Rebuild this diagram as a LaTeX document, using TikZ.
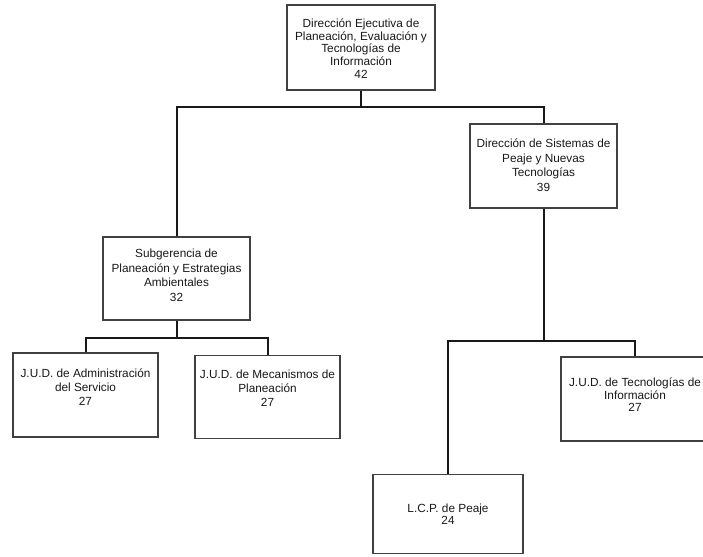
\documentclass[tikz,border=0pt]{standalone}
\usepackage{fontspec}
\setmainfont{Liberation Sans}
\begin{document}
\begin{tikzpicture}[x=1pt,y=-1pt,
  box/.style={draw=black!75,line width=1.2pt,fill=white,inner sep=0pt,minimum width=147pt,minimum height=84pt},
  txt/.style={align=center,font=\fontsize{11.8}{14.5}\selectfont,text=black!90,inner sep=0pt},
  link/.style={draw=black!90,line width=2pt}]
\useasboundingbox (0,0) rectangle (703,556);
\fill[white] (0,0) rectangle (703,556);
% boxes
\node[box,minimum width=148pt,minimum height=85pt] (top) at (361,47.5) {};
\node[txt,font=\fontsize{11.8}{12.8}\selectfont] (ttop) at (361,48.5) {Dirección Ejecutiva de\\Planeación, Evaluación y\\Tecnologías de\\Información\\42};
\node[box] (dsys) at (543.5,166) {};
\node[txt] (tdsys) at (543.5,165) {Dirección de Sistemas de\\Peaje y Nuevas\\Tecnologías\\39};
\node[box,minimum height=83pt] (sub) at (176.5,278.5) {};
\node[txt] (tsub) at (176.5,275.5) {Subgerencia de\\Planeación y Estrategias\\Ambientales\\32};
\node[box,minimum width=145pt] (adm) at (85.5,395) {};
\node[txt,font=\fontsize{11.8}{13.8}\selectfont] (tadm) at (85.5,387) {J.U.D. de Administración\\del Servicio\\27};
\node[box,minimum width=145pt,minimum height=83pt] (mec) at (267.5,397) {};
\node[txt,font=\fontsize{11.8}{13.8}\selectfont] (tmec) at (267.5,388) {J.U.D. de Mecanismos de\\Planeación\\27};
\node[box,minimum width=148pt] (tec) at (635,399) {};
\node[txt,font=\fontsize{11.8}{12.5}\selectfont] (ttec) at (635,395) {J.U.D. de Tecnologías de\\Información\\27};
\node[box,minimum width=150pt,minimum height=79pt] (lcp) at (448,514) {};
\node[txt,font=\fontsize{11.8}{12.5}\selectfont] (tlcp) at (448,514) {L.C.P. de Peaje\\24};
% bus points
\coordinate (b1) at (361,107);
\coordinate (b2) at (176.5,338);
\coordinate (b3) at (543.5,341);
% connectors
\draw[link] (top.south) -- (b1);
\draw[link] (sub.north) |- (b1);
\draw[link] (dsys.north) |- (b1);
\draw[link] (sub.south) -- (b2);
\draw[link] (adm.north) |- (b2);
\draw[link] (mec.north) |- (b2);
\draw[link] (dsys.south) -- (b3);
\draw[link] (lcp.north) |- (b3);
\draw[link] (tec.north) |- (b3);
\end{tikzpicture}
\end{document}
